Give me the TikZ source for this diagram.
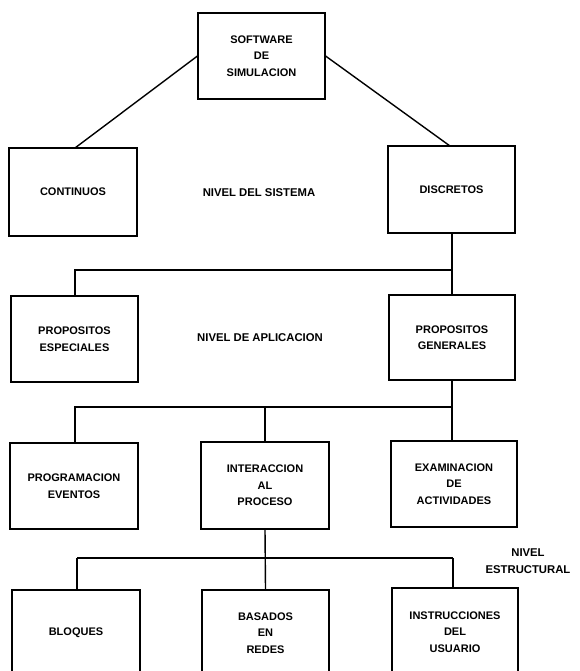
\documentclass[tikz,border=0pt]{standalone}
\usepackage{fontspec}
\setmainfont{Liberation Sans}
\tikzset{
  box/.style={draw, line width=1.1pt, inner sep=0pt, align=center,
    font=\bfseries\fontsize{11}{16.5}\selectfont},
  lbl/.style={inner sep=0pt, align=center, font=\bfseries\fontsize{11.3}{16.5}\selectfont},
  conn/.style={line width=1.4pt}
}
\begin{document}
\begin{tikzpicture}[x=1pt,y=-1pt]
\useasboundingbox (0,0) rectangle (579,671);
\clip (0,0) rectangle (579,671);
% level 0
\node[box, minimum width=127pt, minimum height=86pt] (sw) at (261.5,56) {SOFTWARE\\DE\\SIMULACION};
% level 1
\node[box, minimum width=128pt, minimum height=88pt] (cont) at (73,192) {CONTINUOS};
\node[box, minimum width=127pt, minimum height=87pt] (disc) at (451.5,189.5) {DISCRETOS};
\node[lbl] (nsis) at (259,193) {NIVEL DEL SISTEMA};
% level 2
\node[box, minimum width=127pt, minimum height=86pt] (pesp) at (74.5,339) {PROPOSITOS\\ESPECIALES};
\node[box, minimum width=126pt, minimum height=85pt] (pgen) at (452,337.5) {PROPOSITOS\\GENERALES};
\node[lbl] (napl) at (260,338) {NIVEL DE APLICACION};
% level 3
\node[box, minimum width=128pt, minimum height=86pt] (prog) at (74,486) {PROGRAMACION\\EVENTOS};
\node[box, minimum width=128pt, minimum height=87pt] (inter) at (265,485.5) {INTERACCION\\AL\\PROCESO};
\node[box, minimum width=126pt, minimum height=86pt] (exam) at (454,484) {EXAMINACION\\DE\\ACTIVIDADES};
\node[lbl] (nest) at (528,561) {NIVEL\\ESTRUCTURAL};
% level 4 (cut off at the bottom)
\node[box, minimum width=128pt, minimum height=86pt] (bloq) at (76,633) {BLOQUES};
\node[box, minimum width=127pt, minimum height=86pt] (bas) at (265.5,633) {BASADOS\\EN\\REDES};
\node[box, minimum width=126pt, minimum height=88pt] (instr) at (455,632) {INSTRUCCIONES\\DEL\\USUARIO};
% connectors
\draw[conn] (sw.west) -- (75,148);
\draw[conn] (sw.east) -- (450,146);
\coordinate (j1) at (452,270);
\draw[conn] (disc.south -| j1) -- (j1) -- (j1 -| 75,0) -- (pesp.north -| 75,0);
\draw[conn] (j1) -- (pgen.north -| j1);
\coordinate (j2) at (452,407);
\draw[conn] (pgen.south -| j2) -- (j2) -- (j2 -| 75,0) -- (prog.north -| 75,0);
\draw[conn] (j2 -| inter.north) -- (inter.north);
\draw[conn] (j2) -- (exam.north -| j2);
\coordinate (j3) at (265,558);
\draw[conn] (inter.south) -- (bas.north);
\draw[conn] (77,558) -- (453,558);
\draw[conn] (77,558) -- (bloq.north -| 77,0);
\draw[conn] (453,558) -- (instr.north -| 453,0);
\end{tikzpicture}
\end{document}
